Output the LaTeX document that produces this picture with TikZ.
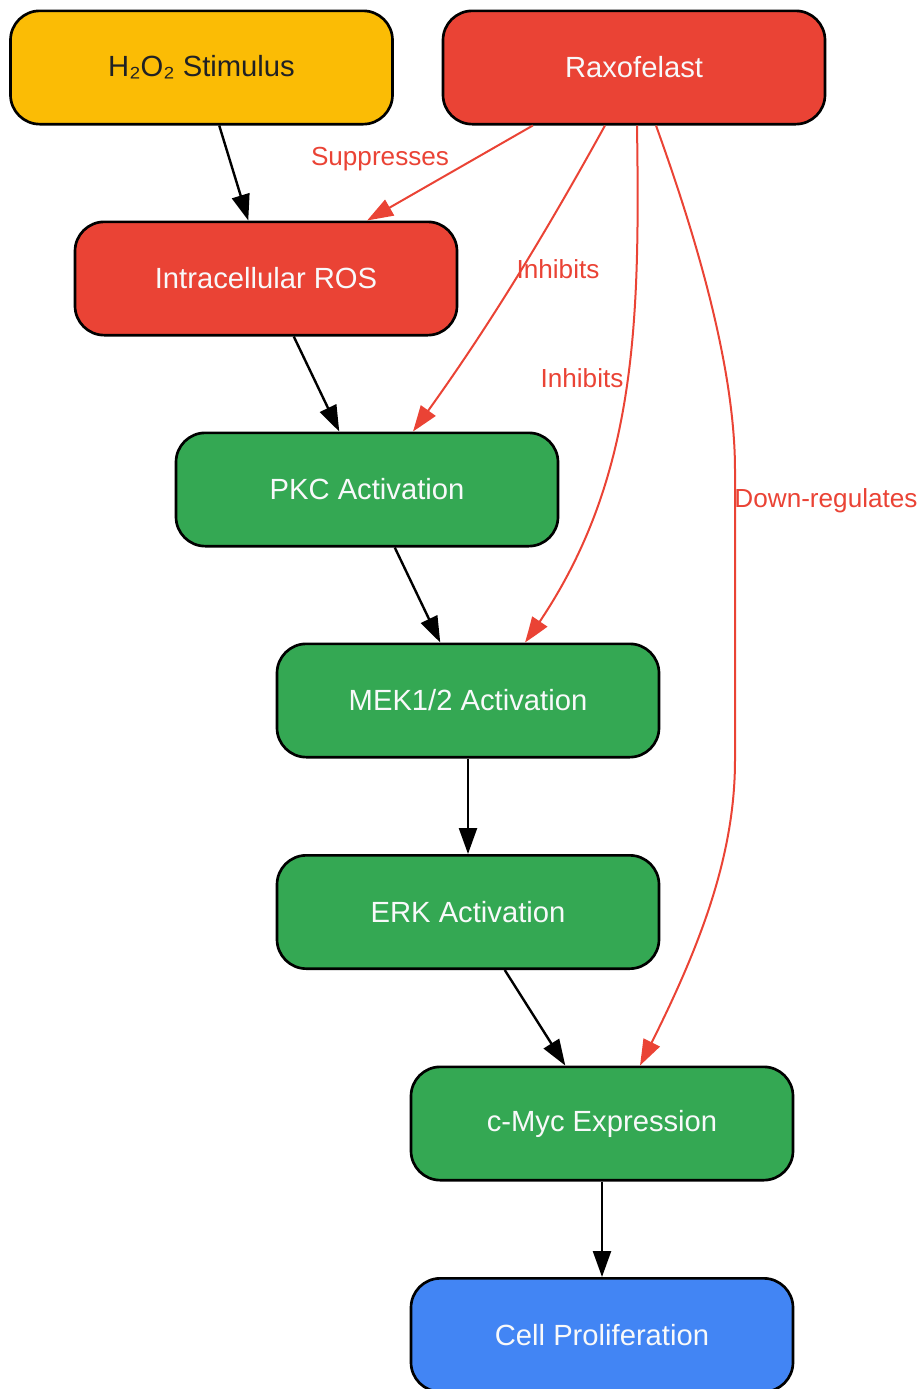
\documentclass[tikz,border=0pt]{standalone}
\usepackage{fontspec}
\setmainfont{Liberation Sans}
\usetikzlibrary{arrows.meta,bending}
\definecolor{gyellow}{HTML}{FBBC05}
\definecolor{gred}{HTML}{EA4335}
\definecolor{ggreen}{HTML}{34A853}
\definecolor{gblue}{HTML}{4285F4}
\definecolor{gdark}{HTML}{202124}
\definecolor{glight}{HTML}{F8F9FA}
\tikzset{
    boxnode/.style={draw=black, line width=2pt, rounded corners=22pt,
        minimum width=286.5pt, minimum height=85pt, inner sep=0pt,
        font=\fontsize{21.9}{26}\selectfont, text=glight},
    flowarrow/.style={line width=1.8pt, -{Triangle[length=19.5pt,width=13.5pt,bend]}},
    redarrow/.style={flowarrow, line width=1.5pt, draw=gred, fill=none},
    edgelabel/.style={inner sep=0pt, text=gred, font=\fontsize{19.6}{23}\selectfont}
}

\begin{document}
\begin{tikzpicture}[x=0.75pt, y=-0.75pt]
            \useasboundingbox (0,0) rectangle (923,1389);

            % Узлы
            \node[boxnode, fill=gyellow, text=gdark] (stim) at (201.5,67.5) {H₂O₂ Stimulus};
            \node[boxnode, fill=gred] (rax) at (634,67.5) {Raxofelast};
            \node[boxnode, fill=gred] (ros) at (266,278.5) {Intracellular ROS};
            \node[boxnode, fill=ggreen] (pkc) at (367,489.5) {PKC Activation};
            \node[boxnode, fill=ggreen] (mek) at (468,700.5) {MEK1/2 Activation};
            \node[boxnode, fill=ggreen] (erk) at (468,912) {ERK Activation};
            \node[boxnode, fill=ggreen] (cmyc) at (602,1123.5) {c-Myc Expression};
            \node[boxnode, fill=gblue] (prolif) at (602,1335) {Cell Proliferation};

            % Чёрные стрелки
            \draw[flowarrow] (stim) -- (ros);
            \draw[flowarrow] (ros) -- (pkc);
            \draw[flowarrow] (pkc) -- (mek);
            \draw[flowarrow] (mek) -- (erk);
            \draw[flowarrow] (erk) -- (cmyc);
            \draw[flowarrow] (cmyc) -- (prolif);

            % Красные стрелки
            \draw[redarrow] (rax) -- (ros);
            \draw[redarrow] ([xshift=-21.75pt]rax.south)
                .. controls (550,225) and (488,330) .. ([xshift=34.5pt]pkc.north);
            \draw[redarrow] ([xshift=2.25pt]rax.south)
                .. controls (640,330) and (637,491) .. ([xshift=42.75pt]mek.north);
            \draw[redarrow] ([xshift=16.5pt]rax.south)
                .. controls (690,220) and (735,360) .. (735,470) -- (735,760)
                .. controls (735,860) and (697,955) .. ([xshift=28.5pt]cmyc.north);

            % Подписи
            \node[edgelabel] (lsup) at (380,159.5) {Suppresses};
            \node[edgelabel] (linh1) at (558,269.5) {Inhibits};
            \node[edgelabel] (linh2) at (582,378.5) {Inhibits};
            \node[edgelabel] (ldown) at (826,500.5) {Down-regulates};
\end{tikzpicture}
\end{document}
